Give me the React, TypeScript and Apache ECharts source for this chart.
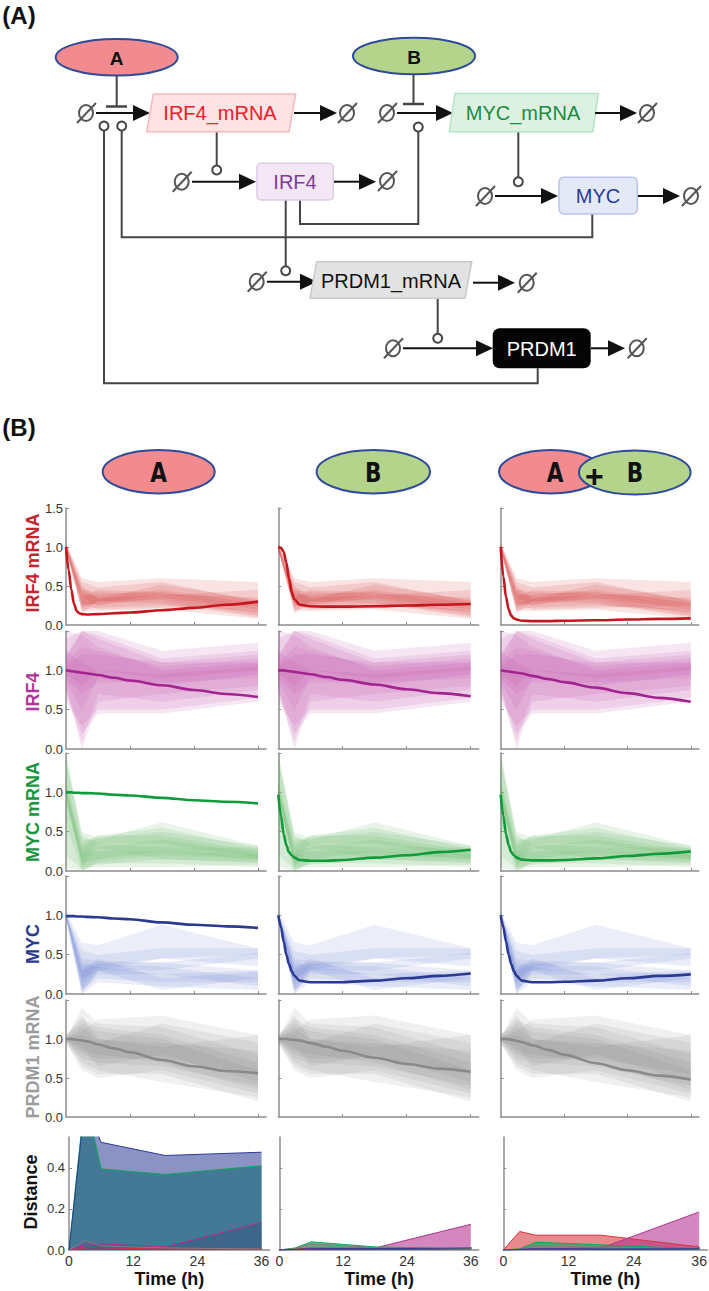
import React, { useEffect, useRef } from "react";
import * as echarts from "echarts";

// ---------------- data ----------------
const bandTimes = [0, 3, 6, 18, 36];
const modelTimes = [0, 0.5, 1, 1.5, 2, 2.5, 3, 4, 6, 9, 12, 18, 24, 30, 36];
const distanceTimes = [0, 3, 6, 18, 36];
const timeTicks = [0, 12, 24, 36];
const conditionLabels = ["A", "B", "A+B"];
const speciesNames = ["IRF4 mRNA", "IRF4", "MYC mRNA", "MYC", "PRDM1 mRNA"];

// experimental ranges (ribbons), one row per replicate, values at bandTimes
const irf4MrnaBandLow = [
  [0.98, 0.25, 0.28, 0.3, 0.12],
  [0.97, 0.2, 0.22, 0.25, 0.18],
  [0.95, 0.3, 0.25, 0.35, 0.2],
  [0.98, 0.15, 0.3, 0.28, 0.1],
  [0.96, 0.28, 0.2, 0.22, 0.25],
  [0.95, 0.22, 0.3, 0.32, 0.15],
  [0.99, 0.35, 0.26, 0.4, 0.22],
  [0.97, 0.18, 0.18, 0.2, 0.08],
];
const irf4MrnaBandHigh = [
  [1.02, 0.4, 0.38, 0.45, 0.28],
  [1.03, 0.45, 0.42, 0.4, 0.35],
  [1.05, 0.55, 0.48, 0.55, 0.3],
  [1.02, 0.35, 0.45, 0.42, 0.22],
  [1.04, 0.5, 0.35, 0.38, 0.45],
  [1.05, 0.6, 0.55, 0.6, 0.55],
  [1.01, 0.45, 0.33, 0.52, 0.32],
  [1.03, 0.3, 0.28, 0.3, 0.18],
];
const irf4BandLow = [
  [0.8, 0.0, 0.6, 0.7, 0.8],
  [0.6, 0.3, 0.5, 0.5, 0.65],
  [0.9, 0.7, 0.85, 0.85, 0.9],
  [0.7, 0.1, 0.7, 0.6, 0.75],
  [0.85, 0.5, 0.9, 0.8, 0.95],
  [0.75, 0.2, 0.45, 0.45, 0.6],
  [0.95, 0.8, 1.0, 0.9, 1.0],
];
const irf4BandHigh = [
  [1.2, 1.5, 1.4, 1.1, 1.2],
  [1.4, 1.5, 1.5, 1.25, 1.35],
  [1.1, 1.3, 1.25, 1.05, 1.15],
  [1.5, 1.45, 1.3, 1.0, 1.1],
  [1.15, 1.5, 1.45, 1.15, 1.25],
  [1.25, 1.1, 1.0, 0.95, 1.05],
  [1.05, 1.2, 1.2, 1.1, 1.1],
];
const mycMrnaBandLow = [
  [0.95, 0.05, 0.3, 0.15, 0.1],
  [0.6, 0.0, 0.1, 0.1, 0.05],
  [0.9, 0.1, 0.15, 0.25, 0.15],
  [0.2, 0.02, 0.05, 0.05, 0.08],
  [0.85, 0.15, 0.35, 0.35, 0.18],
  [0.98, 0.05, 0.08, 0.15, 0.12],
  [0.05, 0.0, 0.12, 0.2, 0.15],
];
const mycMrnaBandHigh = [
  [1.05, 0.3, 0.45, 0.45, 0.25],
  [1.4, 0.4, 0.4, 0.62, 0.32],
  [1.1, 0.25, 0.3, 0.4, 0.22],
  [1.5, 0.45, 0.35, 0.3, 0.3],
  [1.15, 0.35, 0.45, 0.55, 0.28],
  [1.02, 0.2, 0.25, 0.25, 0.2],
  [1.45, 0.5, 0.42, 0.5, 0.32],
];
const mycBandLow = [
  [0.98, 0.05, 0.25, 0.25, 0.1],
  [0.95, 0.0, 0.3, 0.45, 0.35],
  [0.97, 0.1, 0.3, 0.3, 0.45],
  [0.96, 0.0, 0.15, 0.1, 0.05],
  [0.99, 0.15, 0.35, 0.45, 0.5],
  [0.95, 0.05, 0.2, 0.15, 0.15],
  [0.98, 0.2, 0.3, 0.05, 0.2],
];
const mycBandHigh = [
  [1.02, 0.45, 0.42, 0.4, 0.3],
  [1.05, 0.65, 0.62, 0.88, 0.58],
  [1.03, 0.35, 0.4, 0.4, 0.52],
  [1.04, 0.3, 0.38, 0.35, 0.2],
  [1.01, 0.55, 0.5, 0.58, 0.58],
  [1.05, 0.4, 0.35, 0.25, 0.3],
  [1.02, 0.3, 0.45, 0.2, 0.28],
];
const prdm1MrnaBandLow = [
  [0.98, 0.75, 0.7, 0.65, 0.4],
  [0.95, 0.65, 0.55, 0.55, 0.2],
  [0.97, 0.8, 0.75, 0.75, 0.55],
  [0.96, 0.7, 0.6, 0.45, 0.25],
  [0.99, 0.85, 0.8, 0.7, 0.35],
  [0.95, 0.6, 0.5, 0.6, 0.3],
  [0.98, 0.9, 0.65, 0.8, 0.45],
];
const prdm1MrnaBandHigh = [
  [1.02, 1.4, 1.2, 1.15, 0.8],
  [1.05, 1.2, 1.1, 1.0, 0.6],
  [1.03, 1.1, 1.25, 1.3, 1.05],
  [1.04, 1.3, 1.0, 0.95, 0.85],
  [1.01, 1.15, 1.0, 0.9, 1.05],
  [1.05, 1.25, 1.15, 1.05, 0.7],
  [1.02, 1.05, 0.95, 1.2, 0.95],
];

// model simulations, values at modelTimes, one row per condition (A, B, A+B)
const irf4MrnaModel = [
  [1.0, 0.7, 0.45, 0.27, 0.18, 0.15, 0.14, 0.135, 0.14, 0.15, 0.16, 0.19, 0.22, 0.26, 0.3],
  [1.0, 0.99, 0.94, 0.8, 0.6, 0.42, 0.33, 0.26, 0.24, 0.235, 0.235, 0.24, 0.25, 0.26, 0.27],
  [1.0, 0.62, 0.36, 0.2, 0.12, 0.085, 0.07, 0.055, 0.05, 0.05, 0.055, 0.06, 0.07, 0.078, 0.085],
];
const irf4Model = [
  [1.0, 0.995, 0.99, 0.985, 0.98, 0.975, 0.97, 0.96, 0.94, 0.905, 0.87, 0.81, 0.75, 0.7, 0.66],
  [1.0, 1.0, 1.0, 0.995, 0.99, 0.985, 0.98, 0.97, 0.95, 0.915, 0.88, 0.82, 0.76, 0.71, 0.67],
  [1.0, 0.995, 0.99, 0.985, 0.98, 0.975, 0.97, 0.96, 0.93, 0.89, 0.85, 0.78, 0.71, 0.65, 0.6],
];
const mycMrnaModel = [
  [1.0, 1.0, 1.0, 0.995, 0.995, 0.995, 0.99, 0.99, 0.985, 0.97, 0.96, 0.93, 0.9, 0.88, 0.86],
  [0.97, 0.7, 0.47, 0.33, 0.24, 0.2, 0.17, 0.14, 0.13, 0.13, 0.14, 0.17, 0.2, 0.24, 0.27],
  [0.97, 0.7, 0.47, 0.33, 0.24, 0.2, 0.17, 0.145, 0.135, 0.135, 0.14, 0.16, 0.19, 0.22, 0.25],
];
const mycModel = [
  [0.99, 0.99, 0.99, 0.99, 0.985, 0.985, 0.985, 0.98, 0.975, 0.96, 0.95, 0.91, 0.88, 0.86, 0.84],
  [1.0, 0.85, 0.67, 0.5, 0.38, 0.29, 0.23, 0.17, 0.15, 0.15, 0.15, 0.17, 0.2, 0.23, 0.26],
  [1.0, 0.85, 0.67, 0.5, 0.38, 0.29, 0.23, 0.17, 0.15, 0.15, 0.155, 0.17, 0.2, 0.23, 0.25],
];
const prdm1MrnaModel = [
  [1.0, 1.0, 1.0, 0.995, 0.99, 0.985, 0.98, 0.97, 0.93, 0.88, 0.83, 0.73, 0.65, 0.59, 0.56],
  [1.0, 1.0, 1.0, 1.0, 0.995, 0.99, 0.99, 0.98, 0.95, 0.9, 0.85, 0.76, 0.68, 0.62, 0.58],
  [1.0, 1.0, 1.0, 0.995, 0.99, 0.985, 0.975, 0.96, 0.92, 0.86, 0.8, 0.69, 0.6, 0.53, 0.48],
];

// distance between model and data, values at distanceTimes, one row per condition
const distIrf4Mrna = [
  [0, 0.01, 0.01, 0.005, 0.005],
  [0, 0.005, 0.01, 0.008, 0.005],
  [0, 0.09, 0.072, 0.072, 0.015],
];
const distIrf4 = [
  [0, 0.02, 0.03, 0.015, 0.135],
  [0, 0.002, 0.005, 0.01, 0.125],
  [0, 0.003, 0.005, 0.01, 0.185],
];
const distMycMrna = [
  [0, 0.75, 0.395, 0.368, 0.41],
  [0, 0.01, 0.04, 0.015, 0.005],
  [0, 0.005, 0.038, 0.025, 0.005],
];
const distPrdm1Mrna = [
  [0, 0.045, 0.02, 0.01, 0.005],
  [0, 0.008, 0.03, 0.012, 0.004],
  [0, 0.004, 0.02, 0.015, 0.005],
];
const distMyc = [
  [0, 0.72, 0.524, 0.46, 0.476],
  [0, 0.003, 0.006, 0.006, 0.01],
  [0, 0.003, 0.006, 0.005, 0.006],
];

// ---------------- styling / layout ----------------
const FONT = '"Liberation Sans", Arial, Helvetica, sans-serif';
const AXIS = "#8c8c8c";
const lineColors = ["#c4161c", "#a3238f", "#0f9b3a", "#2a3992", "#8a8a8a"];
const titleColors = ["#c4242b", "#b0359a", "#17963e", "#2b3990", "#9b9b9b"];
const bandColors = [
  "rgba(214,60,60,0.14)",
  "rgba(190,80,170,0.14)",
  "rgba(90,180,90,0.14)",
  "rgba(100,125,210,0.13)",
  "rgba(120,120,120,0.11)",
];
// distance colours in drawing order: IRF4 mRNA, IRF4, MYC mRNA, PRDM1 mRNA, MYC
const distColors = ["#d6333a", "#b3308f", "#10a85a", "#7f7f7f", "#2b3a96"];
const distOpacity = [0.58, 0.58, 0.65, 0.58, 0.55];
const colX = [66, 278.3, 500.7];
const colW = [200, 200.4, 198];
const rowTop = [508, 631, 753, 876, 1000];
const rowH = [117, 118, 118, 118, 117];
const distX = [69, 279.3, 503.3];
const distW = [200.6, 199.5, 204];
const distTop = 1137;
const distH = 113;
const titleY = [563, 692, 812, 944, 1057];

function buildOption() {
  const bandLows = [irf4MrnaBandLow, irf4BandLow, mycMrnaBandLow, mycBandLow, prdm1MrnaBandLow];
  const bandHighs = [irf4MrnaBandHigh, irf4BandHigh, mycMrnaBandHigh, mycBandHigh, prdm1MrnaBandHigh];
  const models = [irf4MrnaModel, irf4Model, mycMrnaModel, mycModel, prdm1MrnaModel];
  const dists = [distIrf4Mrna, distIrf4, distMycMrna, distPrdm1Mrna, distMyc];
  const distNames = ["IRF4 mRNA", "IRF4", "MYC mRNA", "PRDM1 mRNA", "MYC"];

  const grid: any[] = [];
  const xAxis: any[] = [];
  const yAxis: any[] = [];
  const series: any[] = [];

  const axisLine = { show: true, onZero: false, lineStyle: { color: AXIS, width: 1.5 } };

  for (let r = 0; r < 5; r++) {
    for (let c = 0; c < 3; c++) {
      const gi = grid.length;
      grid.push({ left: colX[c], top: rowTop[r], width: colW[c], height: rowH[r], outerBoundsMode: "none" });
      xAxis.push({
        gridIndex: gi, type: "value", min: 0, max: 37.5,
        axisLine,
        axisTick: { show: true, inside: true, length: 3, customValues: [12, 24, 36], lineStyle: { color: AXIS, width: 1 } },
        axisLabel: { show: false },
        splitLine: { show: false },
      });
      yAxis.push({
        gridIndex: gi, type: "value", min: 0, max: 1.5,
        axisLine,
        axisTick: { show: true, inside: true, length: 3, customValues: [0.5, 1, 1.5], lineStyle: { color: AXIS, width: 1 } },
        axisLabel: {
          show: c === 0,
          customValues: r === 0 ? [0, 0.5, 1, 1.5] : [0, 0.5, 1],
          formatter: (v: number) => v.toFixed(1),
          color: "#333", fontSize: 13, fontFamily: FONT, margin: 3,
        },
        splitLine: { show: false },
      });
      const lows = bandLows[r];
      const highs = bandHighs[r];
      const fill = bandColors[r];
      series.push({
        type: "custom",
        name: speciesNames[r] + " data " + conditionLabels[c],
        xAxisIndex: gi, yAxisIndex: gi,
        silent: true, clip: true,
        encode: { x: 0, y: 1 },
        data: lows.map((_: number[], i: number) => [i, 0]),
        renderItem: (params: any, api: any) => {
          const i = api.value(0);
          const pts: number[][] = [];
          bandTimes.forEach((t, k) => pts.push(api.coord([t, highs[i][k]])));
          for (let k = bandTimes.length - 1; k >= 0; k--) pts.push(api.coord([bandTimes[k], lows[i][k]]));
          return { type: "polygon", shape: { points: pts }, style: { fill, stroke: "none" } };
        },
      });
      series.push({
        type: "line",
        name: speciesNames[r] + " model " + conditionLabels[c],
        xAxisIndex: gi, yAxisIndex: gi,
        data: modelTimes.map((t, k) => [t, models[r][c][k]]),
        symbol: "none", smooth: 0.3, smoothMonotone: "x", silent: true,
        lineStyle: { color: lineColors[r], width: 2.6 },
        z: 5,
      });
    }
  }

  for (let c = 0; c < 3; c++) {
    const gi = grid.length;
    grid.push({ left: distX[c], top: distTop, width: distW[c], height: distH, outerBoundsMode: "none" });
    xAxis.push({
      gridIndex: gi, type: "value", min: 0, max: 37.5,
      axisLine,
      axisTick: { show: true, inside: true, length: 3, customValues: [12, 24, 36], lineStyle: { color: AXIS } },
      axisLabel: { show: true, customValues: timeTicks, color: "#333", fontSize: 14, fontFamily: FONT, margin: 4 },
      splitLine: { show: false },
      name: "Time (h)", nameLocation: "middle", nameGap: 20,
      nameTextStyle: { fontSize: 18, fontWeight: "bold", color: "#111", fontFamily: FONT, verticalAlign: "top" },
    });
    yAxis.push({
      gridIndex: gi, type: "value", min: 0, max: 0.55,
      axisLine,
      axisTick: { show: true, inside: true, length: 3, customValues: [0.2, 0.4], lineStyle: { color: AXIS } },
      axisLabel: {
        show: c === 0, customValues: [0, 0.2, 0.4],
        formatter: (v: number) => v.toFixed(1),
        color: "#333", fontSize: 13, fontFamily: FONT, margin: 4,
      },
      splitLine: { show: false },
    });
    for (let s = 0; s < 5; s++) {
      const d = dists[s];
      const col = distColors[s];
      series.push({
        type: "line",
        name: "Distance " + distNames[s] + " " + conditionLabels[c],
        xAxisIndex: gi, yAxisIndex: gi,
        data: distanceTimes.map((t, k) => [t, d[c][k]]),
        symbol: "none", silent: true,
        lineStyle: { color: col, width: 1 },
        areaStyle: { color: col, opacity: distOpacity[s] },
      });
    }
  }

  // ---------------- graphic: panel A network, headers, titles ----------------
  const g: any[] = [];
  const LINE = "#454545";
  const txt = (x: number, y: number, text: string, font: string, fill: string, extra: any = {}) => ({
    type: "text", x, y, ...extra, z: 20,
    style: { text, font, fill, align: "center", verticalAlign: "middle" },
  });
  const empty = (cx: number, cy: number) => {
    g.push({ type: "ellipse", shape: { cx, cy, rx: 7, ry: 8 }, style: { fill: "none", stroke: "#555", lineWidth: 2 }, z: 10 });
    g.push({ type: "line", shape: { x1: cx - 9, y1: cy + 10, x2: cx + 10, y2: cy - 10 }, style: { stroke: "#555", lineWidth: 2 }, z: 10 });
  };
  const arrow = (x1: number, y: number, x2: number) => {
    const hl = 17, hw = 8;
    g.push({ type: "line", shape: { x1, y1: y, x2: x2 - hl + 2, y2: y }, style: { stroke: "#111", lineWidth: 2 }, z: 10 });
    g.push({ type: "polygon", shape: { points: [[x2, y], [x2 - hl, y - hw], [x2 - hl, y + hw]] }, style: { fill: "#111" }, z: 10 });
  };
  const poly = (points: number[][]) =>
    g.push({ type: "polyline", shape: { points }, style: { stroke: LINE, lineWidth: 2, fill: "none" }, z: 9 });
  const act = (cx: number, cy: number) =>
    g.push({ type: "circle", shape: { cx, cy, r: 4.5 }, style: { fill: "#fff", stroke: LINE, lineWidth: 2 }, z: 11 });
  const nodeFont = `20px ${FONT}`;

  g.push(txt(19, 15, "(A)", `bold 24px ${FONT}`, "#111"));
  g.push(txt(19, 427, "(B)", `bold 24px ${FONT}`, "#111"));

  // connection lines
  poly([[104, 130.5], [104, 383.3], [537.7, 383.3], [537.7, 368.3]]);
  poly([[121.7, 130.5], [121.7, 237.3], [592.3, 237.3], [592.3, 214]]);
  poly([[300, 200], [300, 224], [418.3, 224], [418.3, 131.5]]);
  poly([[285.7, 200], [285.7, 266.2]]);
  poly([[216.7, 131.7], [216.7, 165.5]]);
  poly([[518.3, 131.7], [518.3, 177.2]]);
  poly([[437.7, 298.3], [437.7, 333.8]]);

  // IRF4_mRNA row
  g.push({ type: "ellipse", shape: { cx: 116.7, cy: 57.3, rx: 61, ry: 18.3 }, style: { fill: "#f28b8f", stroke: "#2e4a9a", lineWidth: 2 }, z: 10 });
  g.push(txt(116.7, 58, "A", `bold 19px ${FONT}`, "#111"));
  g.push({ type: "line", shape: { x1: 116.7, y1: 75.6, x2: 116.7, y2: 106.5 }, style: { stroke: LINE, lineWidth: 2 }, z: 10 });
  g.push({ type: "line", shape: { x1: 106, y1: 106.5, x2: 127, y2: 106.5 }, style: { stroke: LINE, lineWidth: 2.5 }, z: 10 });
  empty(86, 113);
  arrow(96, 113, 150);
  act(104, 126);
  act(121.7, 126);
  g.push({ type: "polygon", shape: { points: [[153.3, 94], [295.7, 94], [289, 131.7], [146.7, 131.7]] }, style: { fill: "#fde3e4", stroke: "#f6b8bd", lineWidth: 1.5 }, z: 10 });
  g.push(txt(220, 113, "IRF4_mRNA", nodeFont, "#e8202a"));
  arrow(294, 113, 337);
  empty(347, 113);

  // MYC_mRNA row
  g.push({ type: "ellipse", shape: { cx: 414, cy: 56, rx: 61, ry: 18.3 }, style: { fill: "#b3d48a", stroke: "#2e4a9a", lineWidth: 2 }, z: 10 });
  g.push(txt(414, 57, "B", `bold 19px ${FONT}`, "#111"));
  g.push({ type: "line", shape: { x1: 413.5, y1: 74.3, x2: 413.5, y2: 104 }, style: { stroke: LINE, lineWidth: 2 }, z: 10 });
  g.push({ type: "line", shape: { x1: 403, y1: 104, x2: 424, y2: 104 }, style: { stroke: LINE, lineWidth: 2.5 }, z: 10 });
  empty(387, 113);
  arrow(397, 113, 453);
  act(418.3, 127);
  g.push({ type: "polygon", shape: { points: [[455, 93.5], [598.3, 93.5], [593, 131.7], [449.3, 131.7]] }, style: { fill: "#ddf1e3", stroke: "#b6e1c3", lineWidth: 1.5 }, z: 10 });
  g.push(txt(523, 113, "MYC_mRNA", nodeFont, "#1a8c40"));
  arrow(595, 113, 637);
  empty(647, 113);

  // IRF4 row
  empty(181.7, 181.7);
  arrow(192, 181.7, 256);
  act(216.7, 170);
  g.push({ type: "rect", shape: { x: 257, y: 163.3, width: 76.3, height: 36.7, r: 4 }, style: { fill: "#f3e7f6", stroke: "#dfcbe8", lineWidth: 1.5 }, z: 10 });
  g.push(txt(295, 182, "IRF4", nodeFont, "#7d3c98"));
  arrow(334, 181.7, 376);
  empty(387, 181);

  // MYC row
  empty(485, 196);
  arrow(495, 196, 558);
  act(518.3, 181.7);
  g.push({ type: "rect", shape: { x: 559, y: 177.3, width: 78.3, height: 36.7, r: 5 }, style: { fill: "#e4e9f8", stroke: "#b9c4ea", lineWidth: 1.5 }, z: 10 });
  g.push(txt(598, 196, "MYC", nodeFont, "#2b3a96"));
  arrow(638, 196, 680);
  empty(691, 196);

  // PRDM1_mRNA row
  empty(256.7, 281.7);
  arrow(267, 281.7, 317);
  act(285.7, 270.7);
  g.push({ type: "polygon", shape: { points: [[316.7, 261.7], [471.7, 261.7], [465, 298.3], [310, 298.3]] }, style: { fill: "#e2e2e2", stroke: "#c9c9c9", lineWidth: 1.5 }, z: 10 });
  g.push(txt(391, 281, "PRDM1_mRNA", nodeFont, "#111"));
  arrow(473, 282.7, 515);
  empty(526.7, 282.7);

  // PRDM1 row
  empty(393, 348.3);
  arrow(403, 348.3, 493);
  act(437.7, 338.3);
  g.push({ type: "rect", shape: { x: 492.7, y: 328.3, width: 98, height: 40, r: 7 }, style: { fill: "#050505" }, z: 10 });
  g.push(txt(541.7, 348.5, "PRDM1", nodeFont, "#fff"));
  arrow(591, 348.3, 625);
  empty(636.7, 348.3);

  // condition headers
  const hdrFont = `bold 27px "DejaVu Sans", ${FONT}`;
  const narrow = { scaleX: 0.8 };
  g.push({ type: "ellipse", shape: { cx: 158.7, cy: 471.7, rx: 56, ry: 21.7 }, style: { fill: "#f28b8f", stroke: "#2e4a9a", lineWidth: 2 }, z: 10 });
  g.push(txt(158.7, 473, "A", hdrFont, "#111", narrow));
  g.push({ type: "ellipse", shape: { cx: 373.3, cy: 471.7, rx: 56.7, ry: 21.7 }, style: { fill: "#b3d48a", stroke: "#2e4a9a", lineWidth: 2 }, z: 10 });
  g.push(txt(373.3, 473, "B", hdrFont, "#111", narrow));
  g.push({ type: "ellipse", shape: { cx: 551, cy: 471.7, rx: 52, ry: 21.7 }, style: { fill: "#f28b8f", stroke: "#2e4a9a", lineWidth: 2 }, z: 10 });
  g.push({ type: "ellipse", shape: { cx: 634.8, cy: 472.5, rx: 55.8, ry: 22 }, style: { fill: "#b3d48a", stroke: "#2e4a9a", lineWidth: 2 }, z: 11 });
  g.push(txt(555, 473, "A", hdrFont, "#111", narrow));
  g.push(txt(594.3, 476, "+", `bold 32px ${FONT}`, "#111"));
  g.push(txt(635, 473, "B", hdrFont, "#111", narrow));

  // row titles
  for (let r = 0; r < 5; r++) {
    g.push(txt(32.5, titleY[r], speciesNames[r], `bold 18px ${FONT}`, titleColors[r], { rotation: Math.PI / 2 }));
  }
  g.push(txt(31, 1192, "Distance", `bold 18px ${FONT}`, "#111", { rotation: Math.PI / 2 }));

  return {
    animation: false,
    backgroundColor: "#fff",
    grid, xAxis, yAxis, series,
    graphic: { elements: g },
  };
}

export default function App() {
  const ref = useRef<HTMLDivElement>(null);
  useEffect(() => {
    const chart = echarts.init(ref.current as HTMLDivElement, null, { renderer: "svg" });
    chart.setOption(buildOption() as any);
    return () => chart.dispose();
  }, []);
  return (
    <div
      ref={ref}
      style={{ position: "absolute", left: 0, top: 0, width: 709, height: 1291, background: "#fff" }}
    />
  );
}
